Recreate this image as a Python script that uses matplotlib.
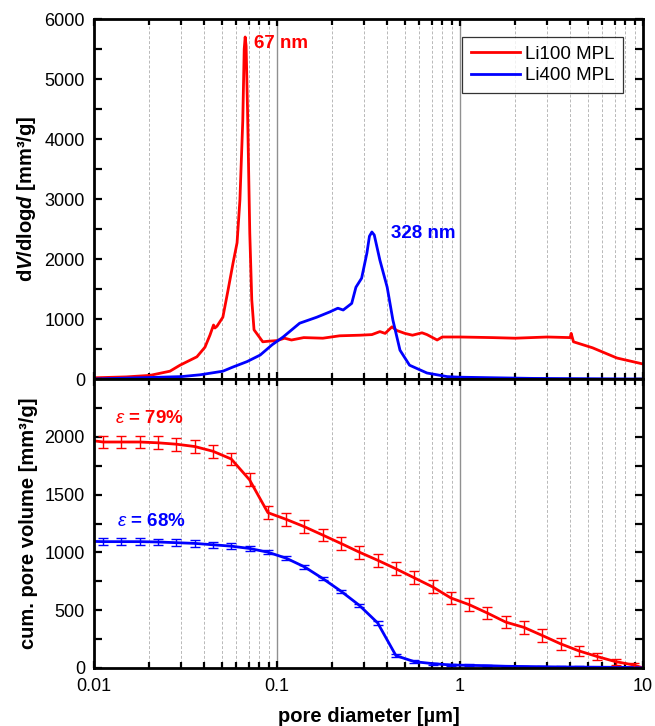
import matplotlib.pyplot as plt
import numpy as np
from matplotlib.ticker import LogLocator, MultipleLocator, NullFormatter, FuncFormatter

plt.rcParams["font.family"] = ["Liberation Sans", "DejaVu Sans"]
plt.rcParams["mathtext.fontset"] = "custom"
plt.rcParams["mathtext.rm"] = "Liberation Sans"
plt.rcParams["mathtext.it"] = "Liberation Sans:italic"
plt.rcParams["mathtext.bf"] = "Liberation Sans:bold"
plt.rcParams["mathtext.bfit"] = "Liberation Sans:italic:bold"

RED = "#ff0000"
BLUE = "#0000ff"

# Differential pore size distribution, dV/dlogd [mm3/g] vs pore diameter [um]
li100_d = [0.0100, 0.0150, 0.0202, 0.0260, 0.0295, 0.0365, 0.0404, 0.0430, 0.0450,
           0.0458, 0.0470, 0.0506, 0.0540, 0.0575, 0.0605, 0.0627, 0.0650, 0.0662,
           0.0670, 0.0678, 0.0690, 0.0710, 0.0728, 0.0749, 0.0787, 0.0836, 0.0900,
           0.1000, 0.1100, 0.1200, 0.1400, 0.1780, 0.2200, 0.2840, 0.3300, 0.3650,
           0.3900, 0.4250, 0.4500, 0.5000, 0.5500, 0.6200, 0.6600, 0.7500, 0.8000,
           1.0000, 1.5000, 2.0000, 3.0000, 4.0000, 4.0500, 4.1700, 5.3000, 7.2000,
           10.000]
li100_v = [20, 35, 60, 130, 230, 370, 530, 730, 900,
           850, 880, 1030, 1480, 1930, 2270, 2980, 4300, 5500,
           5700, 5550, 4500, 2430, 1320, 820, 730, 620, 630,
           640, 680, 650, 690, 680, 720, 730, 740, 790,
           760, 870, 810, 760, 730, 770, 740, 650, 700,
           700, 690, 680, 700, 690, 760, 620, 520, 350,
           250]

li400_d = [0.0100, 0.0202, 0.0300, 0.0380, 0.0506, 0.0575, 0.0686, 0.0810, 0.0940,
           0.1080, 0.1330, 0.1650, 0.1950, 0.2150, 0.2300, 0.2560, 0.2700, 0.2900,
           0.3100, 0.3200, 0.3300, 0.3400, 0.3650, 0.4000, 0.4300, 0.4700, 0.5300,
           0.6600, 0.8500, 1.0000, 2.5000, 10.000]
li400_v = [0, 25, 40, 70, 130, 200, 290, 400, 570,
           700, 930, 1030, 1120, 1180, 1150, 1260, 1530, 1680,
           2100, 2380, 2450, 2400, 1980, 1530, 980, 480, 230,
           100, 40, 30, 10, 0]

# Cumulative pore volume [mm3/g], points every 0.1 decade with error bars
cum_log_d = [-1.95, -1.85, -1.75, -1.65, -1.55, -1.45, -1.35, -1.25, -1.15, -1.05,
             -0.95, -0.85, -0.75, -0.65, -0.55, -0.45, -0.35, -0.25, -0.15, -0.05,
             0.05, 0.15, 0.25, 0.35, 0.45, 0.55, 0.65, 0.75, 0.85, 0.95]
li100_cum = [1955, 1955, 1955, 1948, 1936, 1916, 1875, 1808, 1628, 1344,
             1286, 1222, 1150, 1077, 1002, 932, 858, 780, 702, 606,
             548, 475, 397, 351, 281, 209, 148, 99, 55, 26]
li100_err = [55, 55, 55, 55, 55, 55, 55, 55, 55, 55,
             55, 55, 55, 55, 55, 55, 55, 55, 55, 55,
             55, 55, 55, 55, 55, 50, 45, 30, 25, 20]
li400_cum = [1093, 1093, 1093, 1090, 1084, 1078, 1066, 1054, 1034, 1002,
             950, 875, 774, 664, 542, 390, 107, 55, 38, 26,
             23, 20, 15, 13, 11, 9, 8, 7, 6, 5]
li400_err = [30, 30, 30, 30, 28, 28, 25, 25, 22, 20,
             18, 18, 16, 15, 15, 15, 12, 10, 8, 8,
             8, 8, 6, 6, 6, 6, 5, 5, 5, 5]
li100_cum_ends = [1965, 0]
li400_cum_ends = [1095, 0]

x_min, x_max = 0.01, 10


def style_axis(ax):
    ax.set_xscale("log")
    ax.set_xlim(x_min, x_max)
    ax.xaxis.set_major_locator(LogLocator(base=10, numticks=10))
    ax.xaxis.set_minor_locator(LogLocator(base=10, subs=np.arange(2, 10), numticks=100))
    ax.xaxis.set_minor_formatter(NullFormatter())
    ax.tick_params(which="both", direction="in", top=True, right=True,
                   width=1.6, labelsize=13)
    ax.tick_params(axis="x", which="major", length=5, pad=7)
    ax.tick_params(axis="x", which="minor", length=4)
    ax.tick_params(axis="y", which="both", length=6, pad=6.5)
    for spine in ax.spines.values():
        spine.set_linewidth(2)
    # dashed grid at minor decades, solid at the inner decades
    for dec in [0.01, 0.1, 1]:
        for m in range(2, 10):
            ax.axvline(dec * m, color="#b8b8b8", lw=0.7, ls=(0, (3, 2)), zorder=0)
    for dec in [0.1, 1]:
        ax.axvline(dec, color="#909090", lw=1.0, zorder=0)


fig = plt.figure(figsize=(6.55, 7.26), dpi=100)
ax_top = fig.add_axes([94 / 655, 1 - 379 / 726, 549 / 655, 360 / 726])
ax_bot = fig.add_axes([94 / 655, 1 - 668 / 726, 549 / 655, 289 / 726])

# upper panel: distribution
style_axis(ax_top)
ax_top.plot(li100_d, li100_v, color=RED, lw=2, label="Li100 MPL")
ax_top.plot(li400_d, li400_v, color=BLUE, lw=2, label="Li400 MPL")
ax_top.set_ylim(0, 6000)
ax_top.yaxis.set_major_locator(MultipleLocator(1000))
ax_top.yaxis.set_minor_locator(MultipleLocator(500))
ax_top.tick_params(axis="x", labelbottom=False)
ax_top.set_ylabel(r"d$\mathbfit{V}$/dlog$\mathbfit{d}$ [mm³/g]", fontsize=14.5,
                  fontweight="bold", labelpad=5)
ax_top.text(0.0745, 5590, "67 nm", color=RED, fontsize=13.5, fontweight="bold",
            va="center", ha="left")
ax_top.text(0.42, 2430, "328 nm", color=BLUE, fontsize=13.5, fontweight="bold",
            va="center", ha="left")
leg = ax_top.legend(loc="upper right", fontsize=13.5, frameon=True, fancybox=False,
                    edgecolor="black", handlelength=2.6, handletextpad=0.3,
                    borderpad=0.45, labelspacing=0.25, borderaxespad=0,
                    bbox_to_anchor=(0.964, 0.95))
leg.get_frame().set_linewidth(0.9)

# lower panel: cumulative volume
style_axis(ax_bot)
cum_d = [10 ** v for v in cum_log_d]
ax_bot.plot([x_min] + cum_d + [x_max], [li100_cum_ends[0]] + li100_cum + [li100_cum_ends[1]],
            color=RED, lw=2)
ax_bot.plot([x_min] + cum_d + [x_max], [li400_cum_ends[0]] + li400_cum + [li400_cum_ends[1]],
            color=BLUE, lw=2)
ax_bot.errorbar(cum_d, li100_cum, yerr=li100_err, fmt="none", ecolor=RED,
                elinewidth=1, capsize=3.5, capthick=1)
ax_bot.errorbar(cum_d, li400_cum, yerr=li400_err, fmt="none", ecolor=BLUE,
                elinewidth=1, capsize=3.5, capthick=1)
ax_bot.set_ylim(0, 2500)
ax_bot.yaxis.set_major_locator(MultipleLocator(500))
ax_bot.yaxis.set_minor_locator(MultipleLocator(250))
ax_bot.set_yticks([0, 500, 1000, 1500, 2000])
ax_bot.xaxis.set_major_formatter(FuncFormatter(lambda v, p: f"{v:g}"))
ax_bot.set_ylabel("cum. pore volume [mm³/g]", fontsize=14.5, fontweight="bold", labelpad=5)
ax_bot.set_xlabel("pore diameter [µm]", fontsize=14.5, fontweight="bold", labelpad=9)
ax_bot.text(0.01303, 2157, r"$\mathit{\varepsilon}$ = 79%", color=RED, fontsize=13.5,
            fontweight="bold", va="center", ha="left")
ax_bot.text(0.0134, 1270, r"$\mathit{\varepsilon}$ = 68%", color=BLUE, fontsize=13.5,
            fontweight="bold", va="center", ha="left")

fig.savefig("out.png", dpi=100)
